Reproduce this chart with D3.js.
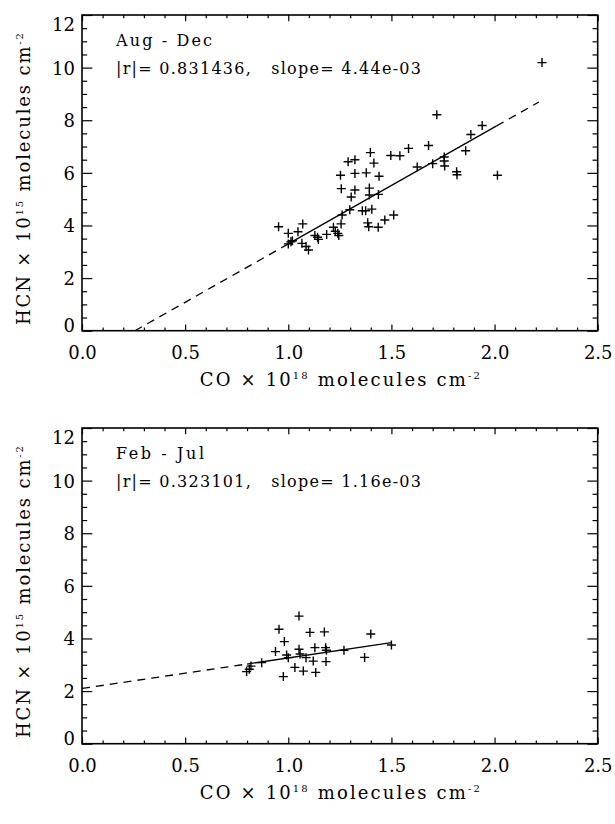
<!DOCTYPE html>
<html><head><meta charset="utf-8">
<script src="https://cdn.jsdelivr.net/npm/d3@7"></script>
<style>
body{margin:0;background:#fff}
svg{display:block}
text{font-family:"DejaVu Serif","Liberation Serif",serif;fill:#000}
</style>
</head><body>
<svg id="chart" width="615" height="824"></svg>
<script>
// ---------- data ----------
const xTicks = [0, 0.5, 1.0, 1.5, 2.0, 2.5];
const xTickLabels = ["0.0", "0.5", "1.0", "1.5", "2.0", "2.5"];
const yTicks = [0, 2, 4, 6, 8, 10, 12];
const yTickLabels = ["0", "2", "4", "6", "8", "10", "12"];
const xMinorStep = 0.1;
const yMinorStep = 0.5;

const panelNames = ["Aug - Dec", "Feb - Jul"];
const corrR = ["0.831436", "0.323101"];
const slopeLabels = ["4.44e-03", "1.16e-03"];

// Aug - Dec : CO (1e18) vs HCN (1e15)
const augDecCO = [2.23, 1.72, 1.94, 1.885, 1.86, 1.68, 1.583, 1.541, 1.497, 1.756, 1.756, 1.758, 1.70, 1.625,
  1.816, 1.818, 2.014, 1.398, 1.415, 1.29, 1.323, 1.253, 1.323, 1.378, 1.44, 1.257, 1.323, 1.393, 1.305,
  1.393, 1.437,
  0.953, 1.0, 1.013, 1.0, 1.02, 1.047, 1.070, 1.066, 1.086, 1.098, 1.129, 1.142, 1.146, 1.186, 1.219,
  1.228, 1.24, 1.245, 1.256, 1.261, 1.298, 1.359, 1.375, 1.405, 1.385, 1.39, 1.436, 1.468, 1.511];
const augDecHCN = [10.19, 8.21, 7.80, 7.46, 6.84, 7.04, 6.93, 6.65, 6.66, 6.60, 6.45, 6.26, 6.35, 6.22,
  6.04, 5.93, 5.91, 6.77, 6.37, 6.42, 6.50, 5.91, 5.98, 6.00, 5.87, 5.40, 5.35, 5.42, 5.08,
  5.16, 5.18,
  3.95, 3.70, 3.38, 3.30, 3.42, 3.76, 4.06, 3.32, 3.20, 3.07, 3.62, 3.55, 3.47, 3.66, 3.93,
  3.78, 3.70, 3.62, 4.06, 4.40, 4.60, 4.56, 4.56, 4.62, 4.10, 3.95, 3.93, 4.21, 4.40];

// Feb - Jul
const febJulCO = [0.798, 0.811, 0.819, 0.871, 0.938, 0.955, 0.976, 0.981, 0.992, 1.0, 1.032, 1.052, 1.052,
  1.057, 1.073, 1.086, 1.105, 1.121, 1.129, 1.133, 1.175, 1.181, 1.185, 1.183, 1.27, 1.37, 1.40, 1.50];
const febJulHCN = [2.74, 2.83, 2.95, 3.08, 3.50, 4.35, 2.55, 3.88, 3.37, 3.27, 2.90, 4.85, 3.59,
  3.41, 2.76, 3.27, 4.23, 3.14, 3.65, 2.71, 4.25, 3.65, 3.55, 3.12, 3.55, 3.28, 4.17, 3.75];

// fitted lines (HCN = slope*CO + intercept, plot units)
const fitSlope = [4.44, 1.16];
const fitIntercept = [-1.141, 2.10];
const fitSolidRange = [[0.97, 2.01], [0.80, 1.50]];
const fitDashedRanges = [[[0.257, 0.97], [2.01, 2.215]], [[0.0, 0.80]]];

// ---------- layout ----------
const svg = d3.select("#chart");
const X0 = 82, X1 = 597.7;
const panels = [
  {top: 15, bottom: 330.7, co: augDecCO, hcn: augDecHCN},
  {top: 428, bottom: 743.7, co: febJulCO, hcn: febJulHCN}
];

function range(a, b, s) { const out = []; for (let v = a; v <= b + 1e-9; v += s) out.push(+v.toFixed(3)); return out; }
const xMinor = range(0, 2.5, xMinorStep).filter(v => !xTicks.some(t => Math.abs(t - v) < 1e-6));
const yMinor = range(0, 12, yMinorStep).filter(v => !yTicks.some(t => Math.abs(t - v) < 1e-6));

function addTitle(sel, main, sup1, mid, sup2) {
  sel.append("tspan").text(main);
  sel.append("tspan").attr("font-size", 10).attr("dy", -7).text(sup1);
  sel.append("tspan").attr("dy", 7).text(mid);
  sel.append("tspan").attr("font-size", 10).attr("dy", -7).text(sup2);
}

panels.forEach((p, i) => {
  const x = d3.scaleLinear().domain([0, 2.5]).range([X0, X1]);
  const y = d3.scaleLinear().domain([0, 12]).range([p.bottom, p.top]);
  const h = p.bottom - p.top, w = X1 - X0;
  const g = svg.append("g");
  const xLen = 0.02 * h, yLen = 0.02 * w;

  const styleAxis = a => { a.select(".domain").remove(); a.selectAll("line").attr("stroke", "#000").attr("stroke-width", 1.2); };

  // bottom axis
  g.append("g").attr("transform", `translate(0,${p.bottom})`)
    .call(d3.axisBottom(x).tickValues(xMinor).tickSize(-xLen / 2).tickFormat("")).call(styleAxis);
  const xb = g.append("g").attr("transform", `translate(0,${p.bottom})`)
    .call(d3.axisBottom(x).tickValues(xTicks).tickSizeInner(-xLen).tickSizeOuter(0).tickPadding(15.5)
      .tickFormat((d, k) => xTickLabels[k])).call(styleAxis);
  xb.selectAll("text").attr("font-size", 18).attr("font-family", "DejaVu Serif");
  // top axis
  g.append("g").attr("transform", `translate(0,${p.top})`)
    .call(d3.axisTop(x).tickValues(xMinor).tickSize(-xLen / 2).tickFormat("")).call(styleAxis);
  g.append("g").attr("transform", `translate(0,${p.top})`)
    .call(d3.axisTop(x).tickValues(xTicks).tickSize(-xLen).tickFormat("")).call(styleAxis);
  // left axis
  g.append("g").attr("transform", `translate(${X0},0)`)
    .call(d3.axisLeft(y).tickValues(yMinor).tickSize(-yLen / 2).tickFormat("")).call(styleAxis);
  const yl = g.append("g").attr("transform", `translate(${X0},0)`)
    .call(d3.axisLeft(y).tickValues(yTicks).tickSizeInner(-yLen).tickSizeOuter(0).tickPadding(7)
      .tickFormat((d, k) => yTickLabels[k])).call(styleAxis);
  yl.selectAll("text").attr("font-size", 18).attr("font-family", "DejaVu Serif")
    .attr("dy", d => d === 12 ? "0.85em" : d === 0 ? "0.05em" : "0.36em");
  // right axis
  g.append("g").attr("transform", `translate(${X1},0)`)
    .call(d3.axisRight(y).tickValues(yMinor).tickSize(-yLen / 2).tickFormat("")).call(styleAxis);
  g.append("g").attr("transform", `translate(${X1},0)`)
    .call(d3.axisRight(y).tickValues(yTicks).tickSize(-yLen).tickFormat("")).call(styleAxis);

  // frame
  g.append("rect").attr("x", X0).attr("y", p.top).attr("width", w).attr("height", h)
    .attr("fill", "none").attr("stroke", "#000").attr("stroke-width", 1.6);

  // fit lines
  const line = d3.line().x(d => x(d)).y(d => y(fitSlope[i] * d + fitIntercept[i]));
  g.append("path").attr("d", line(fitSolidRange[i])).attr("fill", "none").attr("stroke", "#000").attr("stroke-width", 1.3);
  fitDashedRanges[i].forEach(r => {
    g.append("path").attr("d", line(r)).attr("fill", "none").attr("stroke", "#000")
      .attr("stroke-width", 1.3).attr("stroke-dasharray", "8,6");
  });

  // points
  g.selectAll("path.pt").data(p.co.map((c, k) => [c, p.hcn[k]])).enter().append("path")
    .attr("class", "pt")
    .attr("transform", d => `translate(${x(d[0])},${y(d[1])})`)
    .attr("d", "M-4.5,0H4.5M0,-4.5V4.5")
    .attr("stroke", "#000").attr("stroke-width", 1.4).attr("fill", "none");

  // annotations
  g.append("text").attr("x", 116).attr("y", p.top + 31).attr("font-size", 16)
    .attr("textLength", i === 0 ? 96 : 88).attr("lengthAdjust", "spacing").text(panelNames[i]);
  g.append("text").attr("x", 116).attr("y", p.top + 59).attr("font-size", 16)
    .attr("textLength", 305).attr("lengthAdjust", "spacing").attr("xml:space", "preserve")
    .style("white-space", "pre")
    .text(`|r|= ${corrR[i]},   slope= ${slopeLabels[i]}`);

  // x title
  const xt = g.append("text").attr("x", (X0 + X1) / 2).attr("y", p.bottom + 55.5).attr("text-anchor", "middle")
    .attr("font-size", 18).attr("textLength", 280).attr("lengthAdjust", "spacing");
  addTitle(xt, "CO \u00d7 10", "18", " molecules cm", "-2");

  // y title
  const yt = g.append("text").attr("transform", `translate(30,${p.top + 164}) rotate(-90)`)
    .attr("text-anchor", "middle").attr("font-size", 18).attr("textLength", 292).attr("lengthAdjust", "spacing");
  addTitle(yt, "HCN \u00d7 10", "15", " molecules cm", "-2");
});
</script>
</body></html>
